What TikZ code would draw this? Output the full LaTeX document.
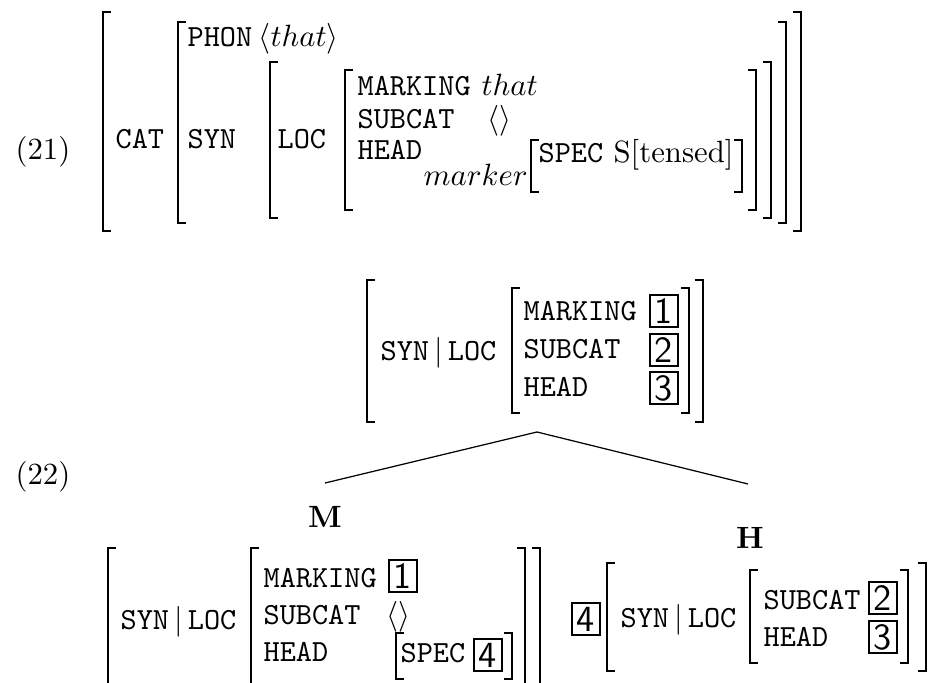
\documentclass[tikz,border=0pt]{standalone}
\usepackage{amsmath}
\usetikzlibrary{positioning}
% left and right AVM brackets: x, top, bottom
\newcommand{\avmL}[3]{\draw[brak] (#1+8,#2) -- (#1,#2) -- (#1,#3) -- (#1+8,#3);}
\newcommand{\avmR}[3]{\draw[brak] (#1-8,#2) -- (#1,#2) -- (#1,#3) -- (#1-8,#3);}
\begin{document}
\begin{tikzpicture}[x=0.325pt, y=-0.325pt,
    attr/.style={font=\ttfamily, anchor=base west, inner sep=0pt},
    val/.style={anchor=base west, inner sep=0pt},
    tag/.style={draw, line width=0.65pt, font=\sffamily\large, inner sep=0pt,
                minimum width=9pt, minimum height=10.4pt},
    brak/.style={line width=0.55pt},
    dtr/.style={font=\bfseries, anchor=base, inner sep=0pt}]
    \useasboundingbox (0,0) rectangle (929,683);
    % (21)
    \node[val] (ex21) at (15,160) {(21)};
    \avmL{103}{12}{231} \avmR{801}{12}{231}
    \node[attr] (cat) at (115,149) {CAT};
    \avmL{178}{22}{223} \avmR{786}{22}{223}
    \node[attr] (phon) at (187,47) {PHON};
    \node[val] (phonv) at (258,47) {$\langle that\rangle$};
    \node[attr] (syn) at (187,149) {SYN};
    \avmL{270}{62}{218} \avmR{771}{62}{218}
    \node[attr] (loc) at (277,149) {LOC};
    \avmL{345}{70}{210} \avmR{756}{70}{210}
    \node[attr] (mark) at (357,96) {MARKING};
    \node[val] (markv) at (481,96) {$that$};
    \node[attr] (subc) at (357,129) {SUBCAT};
    \node[val] (subcv) at (487,129) {$\langle\rangle$};
    \node[attr] (head) at (357,160) {HEAD};
    \node[val] (headt) at (423,186) {$marker$};
    \avmL{531}{140}{192} \avmR{742}{140}{192}
    \node[attr] (spec) at (538,163) {SPEC};
    \node[val] (specv) at (613,163) {S[tensed]};
    % (22)
    \node[val] (ex22) at (15,484) {(22)};
    \avmL{367}{280}{422} \avmR{703}{280}{422}
    \node[attr] (msyn) at (380,361) {SYN\,$|$\,LOC};
    \avmL{512}{288}{413} \avmR{689}{288}{413}
    \node[attr] (mmark) at (523,321) {MARKING};
    \node[tag] (t1) at (664,311) {1};
    \node[attr] (msubc) at (523,359) {SUBCAT};
    \node[tag] (t2) at (664,350) {2};
    \node[attr] (mhead) at (523,397) {HEAD};
    \node[tag] (t3) at (664,388) {3};
    \coordinate (apex) at (537,432);
    \coordinate (lend) at (325,483);
    \coordinate (rend) at (748,484);
    \draw[line width=0.4pt] (apex) -- (lend);
    \draw[line width=0.4pt] (apex) -- (rend);
    \node[dtr] (M) at (325,527) {M};
    \node[dtr] (H) at (750,548) {H};
    % marker daughter
    \avmL{108}{548}{720} \avmR{540}{548}{720}
    \node[attr] (dsyn) at (120,629) {SYN\,$|$\,LOC};
    \avmL{251}{548}{715} \avmR{525}{548}{715}
    \node[attr] (dmark) at (263,587) {MARKING};
    \node[tag] (d1) at (403,576) {1};
    \node[attr] (dsubc) at (263,624) {SUBCAT};
    \node[val] (dsubcv) at (386,624) {$\langle\rangle$};
    \node[attr] (dhead) at (263,661) {HEAD};
    \avmL{396}{633}{679} \avmR{512}{633}{679}
    \node[attr] (dspec) at (400,662) {SPEC};
    \node[tag] (d4) at (488,655) {4};
    % head daughter
    \node[tag] (h4) at (586,619) {4};
    \avmL{607}{563}{671} \avmR{926}{563}{671}
    \node[attr] (hsyn) at (620,627) {SYN\,$|$\,LOC};
    \avmL{750}{570}{663} \avmR{908}{570}{663}
    \node[attr] (hsubc) at (763,609) {SUBCAT};
    \node[tag] (h2) at (883,598) {2};
    \node[attr] (hhead) at (763,646) {HEAD};
    \node[tag] (h3) at (883,637) {3};
\end{tikzpicture}
\end{document}
